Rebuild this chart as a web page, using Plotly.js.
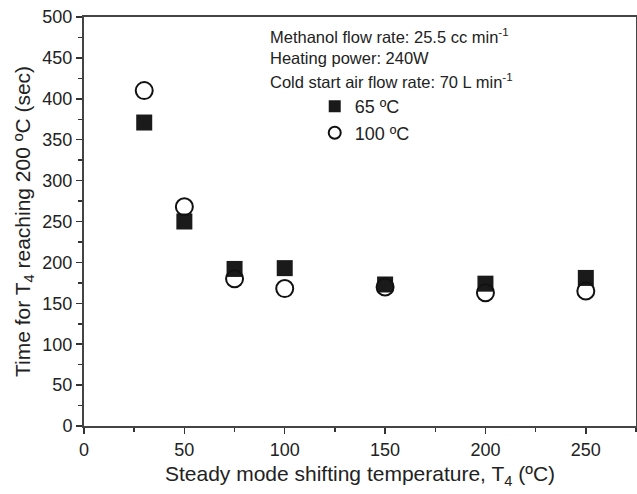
<!DOCTYPE html>
<html><head><meta charset="utf-8">
<script src="https://cdn.plot.ly/plotly-3.0.1.min.js"></script>
<style>html,body{margin:0;padding:0;background:#fff}</style>
</head><body><div id="chart" style="width:637px;height:494px"></div>
<script>
const xTemps = [30, 50, 75, 100, 150, 200, 250];
const series65 = [371, 250, 192, 193, 173, 174, 181];
const series100 = [410, 268, 180, 168, 170, 163, 165];
const seriesNames = ['65 ºC', '100 ºC'];
const notes = ['Methanol flow rate: 25.5 cc min<sup>-1</sup>', 'Heating power: 240W', 'Cold start air flow rate: 70 L min<sup>-1</sup>'];

const font = 'Liberation Sans, Arial, sans-serif';
const traces = [
  {x: xTemps, y: series65, name: seriesNames[0], mode: 'markers', type: 'scatter',
   marker: {symbol: 'square', size: 16, color: '#1a1a1a', line: {width: 0}}},
  {x: xTemps, y: series100, name: seriesNames[1], mode: 'markers', type: 'scatter',
   marker: {symbol: 'circle-open', size: 17, color: '#111', line: {width: 2, color: '#111'}}}
];
const layout = {
  width: 637, height: 494,
  margin: {l: 84, r: 1, t: 17, b: 68},
  paper_bgcolor: '#fff', plot_bgcolor: '#fff',
  font: {family: font, color: '#222', size: 18},
  showlegend: true,
  legend: {x: 0.418, y: 0.826, xanchor: 'left', yanchor: 'top', bgcolor: 'rgba(0,0,0,0)',
    font: {size: 18}, itemsizing: 'constant', tracegroupgap: 0},
  xaxis: {range: [0, 275], tickvals: [0, 50, 100, 150, 200, 250], ticks: 'outside', ticklen: 6,
    tickwidth: 1.5, tickcolor: '#333', showline: true, linecolor: '#444', linewidth: 2, mirror: true,
    showgrid: false, zeroline: false,
    minor: {dtick: 25, ticks: 'outside', ticklen: 4, tickcolor: '#333', tickwidth: 1.5},
    tickfont: {size: 18},
    title: {text: 'Steady mode shifting temperature, T<sub>4</sub> (ºC)', font: {size: 21}, standoff: 8}},
  yaxis: {range: [0, 500], dtick: 50, ticks: 'outside', ticklen: 6, tickwidth: 1.5, tickcolor: '#333',
    showline: true, linecolor: '#444', linewidth: 2, mirror: true, showgrid: false, zeroline: false,
    minor: {dtick: 25, ticks: 'outside', ticklen: 4, tickcolor: '#333', tickwidth: 1.5},
    tickfont: {size: 18},
    title: {text: 'Time for T<sub>4</sub> reaching 200 ºC (sec)', font: {size: 21}, standoff: 6}},
  annotations: notes.map((t, i) => ({text: t, xref: 'paper', yref: 'paper', x: 0.334,
    y: [0.953, 0.899, 0.843][i], xanchor: 'left', yanchor: 'middle', showarrow: false, font: {size: 16.5}}))
};
Plotly.newPlot('chart', traces, layout, {displayModeBar: false, staticPlot: true});
</script></body></html>
